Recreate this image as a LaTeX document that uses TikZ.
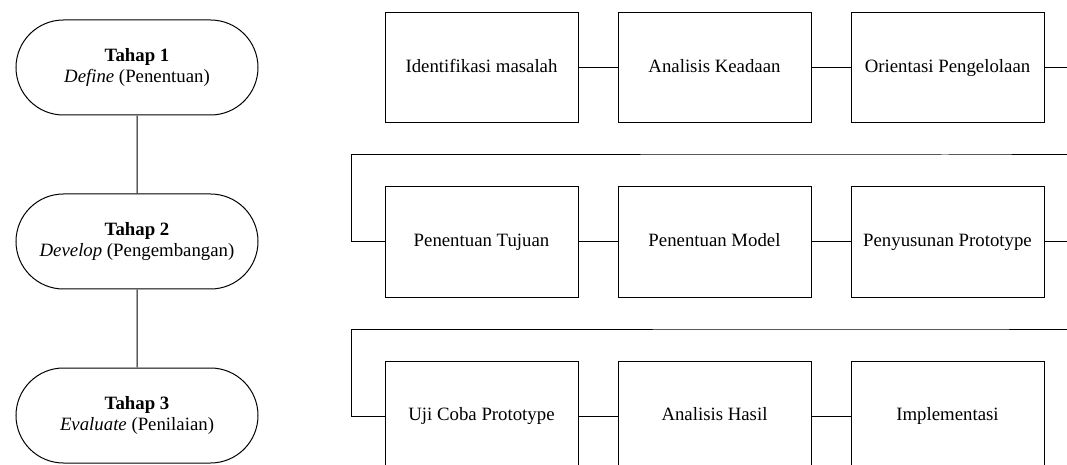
\documentclass[tikz,border=0pt]{standalone}
\usepackage{fontspec}
\setmainfont{Liberation Serif}
\usetikzlibrary{positioning, shapes.misc, calc}
\tikzset{
  tahap/.style={rounded rectangle,draw=black,line width=0.5pt,align=center,
    minimum width=125pt,minimum height=47.5pt,inner sep=2pt,
    font=\fontsize{9.4}{10.5}\selectfont},
  langkah/.style={rectangle,draw=black,line width=0.5pt,align=center,
    minimum width=96.5pt,minimum height=55pt,inner sep=2pt,
    text height=0.7em,text depth=0.22em,
    font=\fontsize{9.4}{10.5}\selectfont},
  ln/.style={line width=0.5pt,draw=black}
}

\begin{document}
\begin{tikzpicture}[x=0.5pt,y=-0.5pt,node distance=39pt and 19.5pt]
\useasboundingbox (0,0) rectangle (1067,465);
% tahapan
\node[tahap] (t1) at (137,67.5) {\textbf{Tahap 1}\\\textit{Define} (Penentuan)};
\node[tahap,below=of t1] (t2) {\textbf{Tahap 2}\\\textit{Develop} (Pengembangan)};
\node[tahap,below=of t2] (t3) {\textbf{Tahap 3}\\\textit{Evaluate} (Penilaian)};
\draw[ln] (t1) -- (t2);
\draw[ln] (t2) -- (t3);
% langkah-langkah
\node[langkah] (a1) at (481.5,68) {Identifikasi masalah};
\node[langkah,right=of a1] (a2) {Analisis Keadaan};
\node[langkah,right=of a2] (a3) {Orientasi Pengelolaan};
\node[langkah,below=31.5pt of a1] (b1) {Penentuan Tujuan};
\node[langkah,right=of b1] (b2) {Penentuan Model};
\node[langkah,right=of b2] (b3) {Penyusunan Prototype};
\node[langkah,below=31.5pt of b1] (c1) {Uji Coba Prototype};
\node[langkah,right=of c1] (c2) {Analisis Hasil};
\node[langkah,right=of c2] (c3) {Implementasi};
\draw[ln] (a1) -- (a2);
\draw[ln] (a2) -- (a3);
\draw[ln] (b1) -- (b2);
\draw[ln] (b2) -- (b3);
\draw[ln] (c1) -- (c2);
\draw[ln] (c2) -- (c3);
% pindah baris
\draw[ln] (a3.east) -- ++(14pt,0) |- ($(a3.south)!.5!(b3.north)$)
  -| ([xshift=-16.5pt]b1.west) -- (b1.west);
\draw[ln] (b3.east) -- ++(14pt,0) |- ($(b3.south)!.5!(c3.north)$)
  -| ([xshift=-16.5pt]c1.west) -- (c1.west);
\end{tikzpicture}
\end{document}
